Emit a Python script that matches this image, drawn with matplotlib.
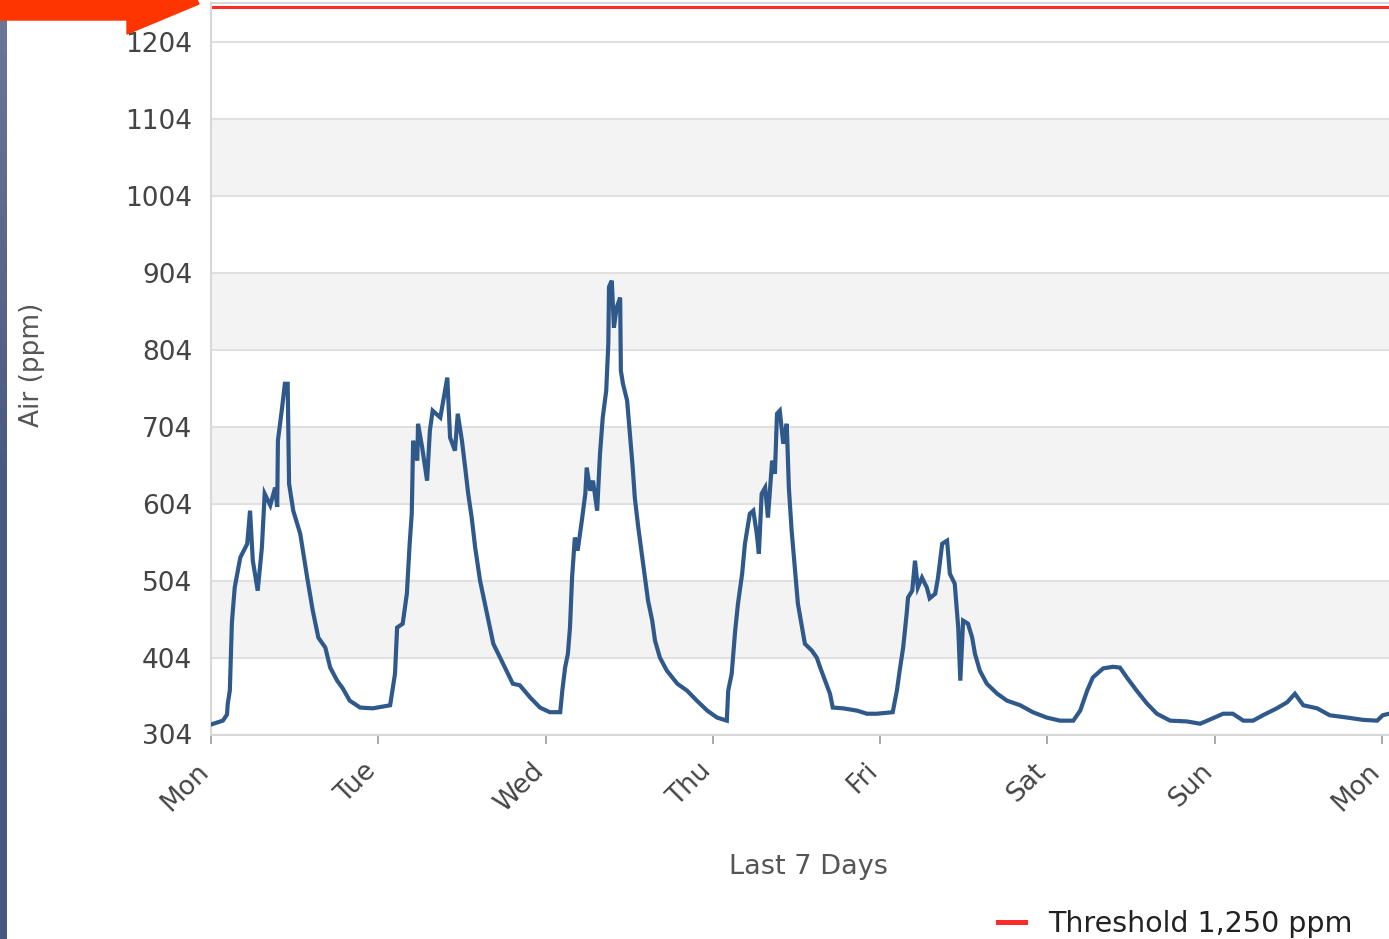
import numpy as np
import matplotlib.pyplot as plt
from matplotlib.patches import Polygon
from matplotlib.colors import LinearSegmentedColormap
from matplotlib.transforms import ScaledTranslation

# hours since Monday 00:00 and CO2 reading (ppm)
hours = [0.0, 1.7, 2.3, 2.4, 2.7, 3.0, 3.4, 4.2, 5.2, 5.6, 6.0, 6.7, 7.3, 7.7, 8.5,
         9.2, 9.5, 9.6, 10.2, 10.6, 11.0, 11.2, 11.8, 12.8, 13.8, 14.6, 15.4, 16.4,
         17.1, 18.1, 18.9, 19.9, 21.4, 23.2, 25.7, 26.4, 26.7, 27.5, 28.1, 28.5,
         28.8, 29.0, 29.6, 29.7, 30.3, 31.0, 31.4, 31.8, 32.9, 33.9, 34.3, 35.0,
         35.4, 36.0, 36.4, 36.9, 37.4, 37.9, 38.6, 39.6, 40.5, 41.9, 43.3, 44.3,
         45.8, 47.2, 48.6, 50.1, 50.4, 50.8, 51.2, 51.5, 51.8, 52.2, 52.6, 53.2,
         53.7, 53.9, 54.4, 54.8, 55.4, 55.8, 56.2, 56.7, 57.0, 57.1, 57.5, 57.8,
         58.2, 58.7, 58.8, 59.1, 59.7, 60.1, 60.5, 60.8, 61.3, 61.8, 62.3, 62.7,
         63.3, 63.7, 64.4, 65.4, 66.9, 68.3, 69.7, 71.2, 72.6, 74.0, 74.2, 74.7,
         75.2, 75.6, 76.2, 76.6, 77.3, 77.8, 78.3, 78.6, 79.0, 79.5, 79.9, 80.5,
         80.9, 81.2, 81.6, 82.1, 82.6, 82.9, 83.3, 83.8, 84.2, 84.8, 85.2, 86.2,
         86.9, 87.4, 88.1, 88.8, 89.2, 90.7, 92.7, 94.1, 95.5, 97.8, 98.4, 98.8,
         99.3, 99.8, 100.0, 100.6, 101.0, 101.4, 102.0, 102.7, 103.1, 103.9,
         104.3, 104.9, 105.6, 106.0, 106.7, 107.2, 107.5, 107.9, 108.6, 109.2,
         109.6, 110.3, 111.3, 112.8, 114.2, 116.1, 117.9, 119.9, 121.8, 123.7,
         124.7, 125.7, 126.5, 128.0, 129.4, 130.4, 131.4, 132.8, 134.3, 135.7,
         137.6, 140.0, 141.9, 143.7, 145.2, 146.6, 148.1, 149.5, 150.9, 152.9,
         154.4, 155.5, 156.7, 158.7, 160.5, 163.0, 165.3, 167.3, 168.1, 169.0]
ppm = [317, 322, 330, 344, 361, 450, 495, 534, 552, 595, 530, 491, 547, 617, 602,
       625, 600, 686, 729, 760, 760, 630, 595, 565, 508, 465, 430, 417,
       391, 374, 364, 348, 339, 338, 342, 383, 443, 448, 487, 552,
       591, 686, 660, 708, 677, 634, 699, 725, 716, 768, 690, 673,
       721, 686, 656, 617, 586, 547, 504, 461, 422, 396, 370, 368,
       352, 339, 333, 333, 361, 391, 409, 443, 508, 560, 543, 582,
       617, 651, 621, 634, 595, 668, 716, 751, 812, 886, 894, 833,
       859, 872, 777, 760, 738, 695, 651, 612, 573, 539, 504, 478,
       452, 426, 404, 387, 370, 361, 348, 335, 326, 322, 361, 383,
       439, 474, 513, 552, 591, 595, 565, 539, 617, 625, 586, 660,
       643, 721, 725, 682, 708, 625, 569, 517, 474, 443, 422, 413,
       404, 391, 374, 357, 339, 338, 335, 331, 331, 333, 361, 387,
       417, 461, 482, 491, 530, 495, 508, 495, 481, 487,
       508, 552, 556, 513, 500, 443, 374, 452, 448, 430,
       409, 387, 370, 357, 348, 342, 333, 326, 322, 322,
       335, 361, 378, 390, 392, 391, 378, 361, 344, 331,
       322, 321, 318, 325, 331, 331, 322, 322, 329, 338,
       346, 357, 342, 338, 329, 326, 323, 322, 329, 331]

threshold = 1250
y_ticks = [304, 404, 504, 604, 704, 804, 904, 1004, 1104, 1204]
day_ticks = [0, 24, 48, 72, 96, 120, 144, 168]
day_labels = ['Mon', 'Tue', 'Wed', 'Thu', 'Fri', 'Sat', 'Sun', 'Mon']

W, H = 1389, 939
fig = plt.figure(figsize=(W / 100, H / 100), dpi=100)
ax = fig.add_axes([211 / W, (H - 734.5) / H, 1178 / W, 731.5 / H])

# alternating bands between gridlines
for i in range(1, len(y_ticks) - 1, 2):
    ax.axhspan(y_ticks[i], y_ticks[i + 1], color='#f3f3f3', lw=0, zorder=0)
ax.set_yticks(y_ticks)
ax.grid(axis='y', color='#e0e0e0', lw=1.5, zorder=1)
ax.set_axisbelow(True)

ax.plot(hours, ppm, color='#30598b', lw=3.0, zorder=3, solid_joinstyle='miter')
ax.axhline(threshold, color='#ff2a2a', lw=2.2, zorder=2,
           label='Threshold 1,250 ppm')

ax.set_xlim(0, 169.0)
ax.set_ylim(304, 1255)

for side in ['left', 'bottom', 'top']:
    ax.spines[side].set_color('#d8d8d8')
    ax.spines[side].set_linewidth(1.5)
ax.spines['right'].set_visible(False)

ax.tick_params(axis='y', length=0, pad=13.5, labelsize=19, labelcolor='#444444')
ax.set_xticks(day_ticks)
ax.set_xticklabels(day_labels, rotation=45, ha='right', va='center',
                   rotation_mode='anchor')
ax.tick_params(axis='x', length=6.5, width=1.2, color='#999999', pad=17,
               labelsize=19, labelcolor='#444444')
shift = ScaledTranslation(-6 / 100, 0, fig.dpi_scale_trans)
for lbl in ax.get_xticklabels():
    lbl.set_transform(lbl.get_transform() + shift)

ax.set_ylabel('Air (ppm)', fontsize=19, color='#555555')
ax.yaxis.set_label_coords(-0.141, 0.505)
ax.set_xlabel('Last 7 Days', fontsize=19.5, color='#555555')
ax.xaxis.set_label_coords(0.507, -0.163)

leg = ax.legend(loc='center left', bbox_to_anchor=(998 / W, 1 - 924 / H),
                bbox_transform=fig.transFigure, frameon=False, fontsize=20.5,
                handlelength=0.95, handletextpad=0.8, borderpad=0,
                borderaxespad=0)
for t in leg.get_texts():
    t.set_color('#222222')
for ln in leg.get_lines():
    ln.set_linewidth(3.6)

# page decorations around the cropped widget
bar = fig.add_axes([0, 0, 7 / W, 1 - 20 / H])
bar_cmap = LinearSegmentedColormap.from_list('bar', ['#6b7696', '#4a5984', '#475682'])
bar.imshow(np.linspace(0, 1, 200).reshape(-1, 1), cmap=bar_cmap, aspect='auto')
bar.axis('off')
arrow_px = [(0, 0), (197, 0), (199, 4), (127, 34), (127, 20), (0, 20)]
fig.patches.append(Polygon([(x / W, 1 - y / H) for x, y in arrow_px], closed=True,
                           transform=fig.transFigure, color='#fe3500', zorder=5))

plt.savefig('out.png', dpi=100)
plt.close()
